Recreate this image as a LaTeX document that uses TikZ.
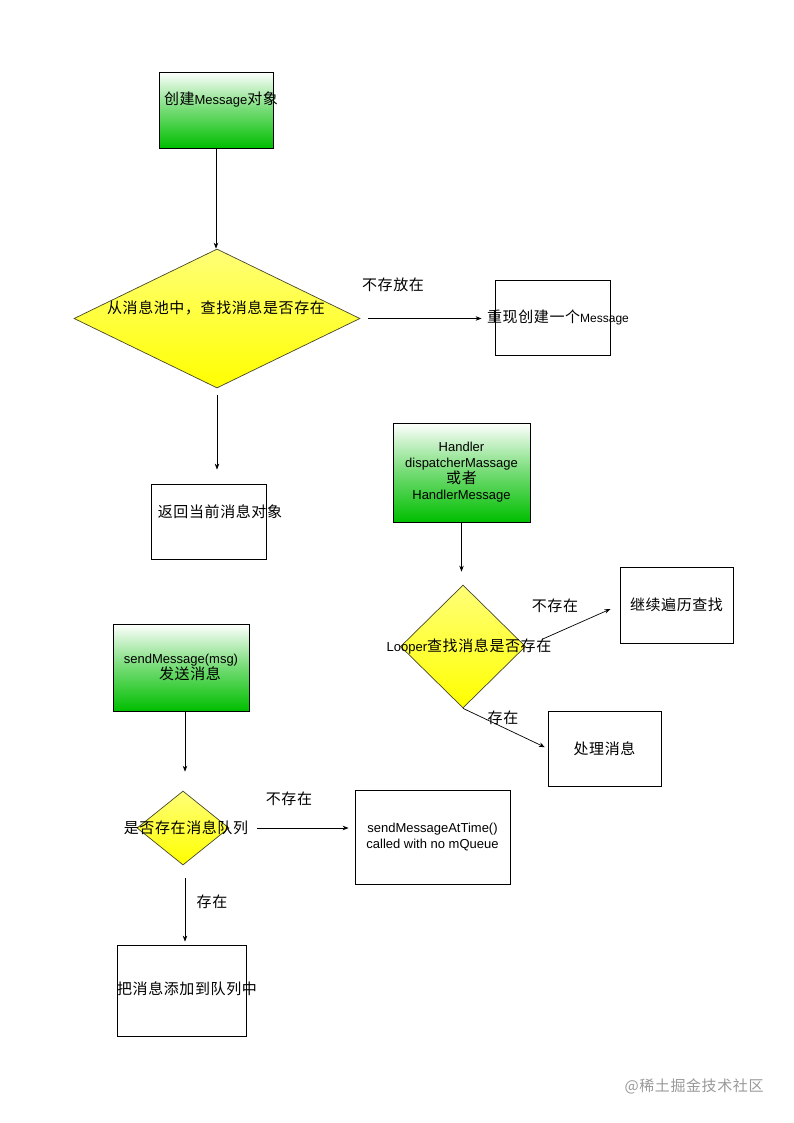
\documentclass[tikz,border=0pt]{standalone}
\usepackage{fontspec}
\setmainfont{Liberation Sans}
\newfontfamily\zhfont[LetterSpace=4]{Noto Sans CJK SC}
\usetikzlibrary{arrows.meta,shapes.geometric,calc}
\definecolor{FlowGreen}{RGB}{0,190,0}
\definecolor{FlowYellow}{RGB}{255,255,0}
\definecolor{FlowYellowLight}{RGB}{255,255,120}
\definecolor{FlowEdge}{RGB}{70,70,40}
\newcommand{\en}[1]{{\rmfamily\fontsize{13}{15}\selectfont #1}}

\begin{document}
\begin{tikzpicture}[x=1pt,y=-1pt,
  box/.style={draw,line width=0.8pt,inner sep=0pt,align=center,font=\zhfont\fontsize{15}{16}\selectfont},
  startbox/.style={box,top color=white,bottom color=FlowGreen,middle color=FlowGreen!55!white},
  decision/.style={diamond,draw=FlowEdge,line width=0.7pt,inner sep=0pt,top color=FlowYellowLight,bottom color=FlowYellow},
  txt/.style={inner sep=0pt,align=center,font=\zhfont\fontsize{15}{16}\selectfont},
  arrow/.style={-{Stealth[length=6pt,width=4.5pt]},line width=0.7pt}
]
  \useasboundingbox (0,0) rectangle (794,1123);

  % message pool
  \node[startbox,minimum width=114pt,minimum height=76pt] (create) at (216,110) {};
  \node[txt] (createtxt) at (221,100) {创建\en{Message}对象};
  \node[decision,minimum width=286pt,minimum height=139pt] (pool) at (217,318.5) {};
  \node[txt] (pooltxt) at (216,308) {从消息池中，查找消息是否存在};
  \node[box,minimum width=115pt,minimum height=75pt] (renew) at (552.5,317.5) {};
  \node[txt] (renewtxt) at (558,317) {重现创建一个{\rmfamily\fontsize{12}{14}\selectfont Message}};
  \node[box,minimum width=115pt,minimum height=75pt] (current) at (208.5,521.5) {};
  \node[txt] (currenttxt) at (220,512) {返回当前消息对象};
  \node[txt] (nostore) at (393,285) {不存放在};

  \draw[arrow] (create.south) -- (create.south |- pool.north);
  \draw[arrow,shorten <=8pt,shorten >=13pt] (pool.east) -- (pool.east -| renew.west);
  \draw[arrow,shorten <=7pt,shorten >=14pt] (pool.south) -- (pool.south |- current.north);

  % looper
  \node[startbox,minimum width=137pt,minimum height=99pt] (handler) at (461.5,472.5)
    {\en{Handler}\\\en{dispatcherMassage}\\或者\\\en{HandlerMessage}};
  \node[decision,minimum width=125pt,minimum height=123pt] (looper) at (463,646.5) {};
  \node[txt] (loopertxt) at (469,646) {\en{Looper}查找消息是否存在};
  \node[box,minimum width=113pt,minimum height=76pt] (keep) at (676.5,605) {继续遍历查找};
  \node[box,minimum width=113pt,minimum height=75pt] (proc) at (604.5,748.5) {处理消息};
  \node[txt] (missing) at (555,606) {不存在};
  \node[txt] (found) at (503,718) {存在};

  \draw[arrow,shorten >=13pt] (handler.south) -- (handler.south |- looper.north);
  \draw[arrow,shorten <=18pt,shorten >=10pt] (looper.east) -- (keep.west);
  \draw[arrow,shorten >=3pt] (looper.south) -- (proc.west);

  % send
  \node[startbox,minimum width=136pt,minimum height=87pt] (send) at (181,667.5)
    {\en{sendMessage(msg)}\\\hspace*{18pt}发送消息};
  \node[decision,minimum width=92pt,minimum height=74pt] (queue) at (183,828) {};
  \node[txt] (queuetxt) at (186,828) {是否存在消息队列};
  \node[box,minimum width=155pt,minimum height=94pt] (attime) at (432.5,837)
    {\en{sendMessageAtTime()}\\\en{called with no mQueue}};
  \node[box,minimum width=129pt,minimum height=91pt] (enqueue) at (181.5,990.5) {};
  \node[txt] (enqueuetxt) at (187,989) {把消息添加到队列中};
  \node[txt] (noqueue) at (289,799) {不存在};
  \node[txt] (hasqueue) at (212,902) {存在};

  \draw[arrow,shorten >=19pt] ($(send.south)+(4,0)$) -- ($(send.south |- queue.north)+(4,0)$);
  \draw[arrow,shorten <=28pt,shorten >=6pt] (queue.east) -- (queue.east -| attime.west);
  \draw[arrow,shorten <=13pt,shorten >=3pt] ($(queue.south)+(2,0)$) -- ($(queue.south |- enqueue.north)+(2,0)$);

  \node[txt,text=black!40] (mark) at (694,1086) {@稀土掘金技术社区};
\end{tikzpicture}
\end{document}
